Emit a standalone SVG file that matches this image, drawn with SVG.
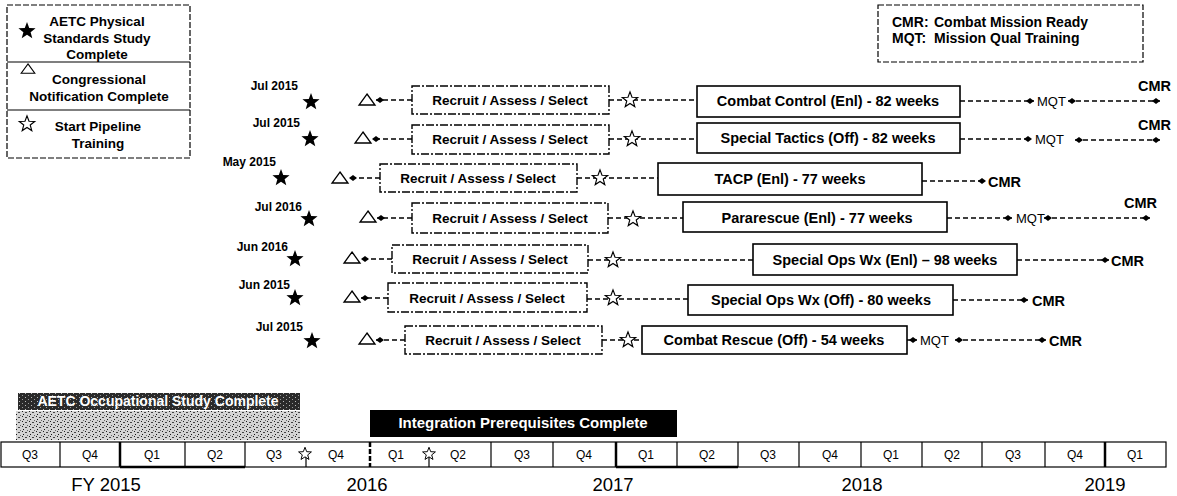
<svg xmlns="http://www.w3.org/2000/svg" width="1177" height="496" viewBox="0 0 1177 496">
<defs>
<style>
text{font-family:"Liberation Sans",Arial,sans-serif;fill:#000}
.rt{font-size:13.5px;font-weight:bold;text-anchor:middle}
.pt{font-size:14.5px;font-weight:bold;text-anchor:middle}
.date{font-size:12px;font-weight:bold;text-anchor:end}
.cmr{font-size:14.5px;font-weight:bold}
.mqt{font-size:13px}
.leg{font-size:13.5px;font-weight:bold;text-anchor:middle}
.leg2{font-size:14px;font-weight:bold}
.q{font-size:12px;text-anchor:middle}
.yr{font-size:18.5px;text-anchor:middle}
.wt{fill:#fff;font-weight:bold;text-anchor:middle}
.rec{fill:#fff;stroke:#000;stroke-width:1.4;stroke-dasharray:8 2 2 2}
.pip{fill:#fff;stroke:#000;stroke-width:1.6}
.con{stroke:#000;stroke-width:1.5;stroke-dasharray:5 3;fill:none}
.fs{fill:#000}
.os{fill:#fff;stroke:#000;stroke-width:1.3}
.tri{fill:#fff;stroke:#000;stroke-width:1.3}
.cell{fill:#fff;stroke:#000;stroke-width:1.2}
.div{stroke:#000;stroke-width:1.2}
.thick{stroke:#000;stroke-width:2.5}
.lg{fill:#fff;stroke:#000;stroke-width:1.2;stroke-dasharray:6 2}
</style>
<path id="star" d="M0,-9 L2.23,-3.07 L8.56,-2.78 L3.61,1.17 L5.29,7.28 L0,3.8 L-5.29,7.28 L-3.61,1.17 L-8.56,-2.78 L-2.23,-3.07 Z"/>
<path id="tri" d="M0,-6 L8,5 L-8,5 Z"/>
<marker id="de" markerWidth="10" markerHeight="8" refX="9" refY="4" orient="auto" markerUnits="userSpaceOnUse"><path d="M1,4 L5,1 L9,4 L5,7 Z" fill="#000"/></marker>
<marker id="ds" markerWidth="10" markerHeight="8" refX="1" refY="4" orient="auto" markerUnits="userSpaceOnUse"><path d="M1,4 L5,1 L9,4 L5,7 Z" fill="#000"/></marker>
<pattern id="noiseL" width="7" height="5" patternUnits="userSpaceOnUse"><rect width="7" height="5" fill="#d4d4d4"/><rect x="1" y="1" width="1" height="1" fill="#222"/><rect x="4" y="2" width="2" height="1" fill="#444"/><rect x="2" y="4" width="1" height="1" fill="#111"/><rect x="6" y="0" width="1" height="1" fill="#666"/></pattern>
<pattern id="noiseD" width="6" height="4" patternUnits="userSpaceOnUse"><rect width="6" height="4" fill="#2a2a2a"/><rect x="1" y="1" width="1" height="1" fill="#bbb"/><rect x="4" y="3" width="1" height="1" fill="#999"/></pattern>
</defs>
<rect width="1177" height="496" fill="#fff"/>

<!-- Legends -->
<g id="legend-symbols">
<rect class="lg" x="7" y="5" width="183" height="153"/>
<line class="div" x1="7" y1="62" x2="190" y2="62"/>
<line class="div" x1="7" y1="110" x2="190" y2="110"/>
<use href="#star" class="fs" transform="translate(27,31)"/>
<text class="leg" x="97" y="26">AETC Physical</text>
<text class="leg" x="97" y="43">Standards Study</text>
<text class="leg" x="97" y="59">Complete</text>
<use href="#tri" class="tri" transform="translate(28,69) scale(0.85)"/>
<text class="leg" x="99" y="84">Congressional</text>
<text class="leg" x="99" y="101">Notification Complete</text>
<use href="#star" class="os" transform="translate(27,124) scale(0.9)"/>
<text class="leg" x="98" y="131">Start Pipeline</text>
<text class="leg" x="98" y="148">Training</text>
</g>
<g id="legend-abbrev">
<rect class="lg" x="878" y="5" width="265" height="57"/>
<text class="leg2" x="892" y="27">CMR:</text><text class="leg2" x="934" y="27">Combat Mission Ready</text>
<text class="leg2" x="892" y="43">MQT:</text><text class="leg2" x="934" y="43">Mission Qual Training</text>
</g>

<!-- Connectors -->
<g id="connectors">
<path class="con" d="M412,100 H376" marker-end="url(#de)"/>
<path class="con" d="M609,100 H697"/>
<path class="con" d="M960,101 H1034" marker-end="url(#de)"/>
<path class="con" d="M1068,101 H1160" marker-start="url(#ds)" marker-end="url(#de)"/>

<path class="con" d="M412,139 H372" marker-end="url(#de)"/>
<path class="con" d="M609,139 H697"/>
<path class="con" d="M960,139 H1032" marker-end="url(#de)"/>
<path class="con" d="M1075,140 H1160" marker-start="url(#ds)" marker-end="url(#de)"/>

<path class="con" d="M380,178 H349" marker-end="url(#de)"/>
<path class="con" d="M577,178 H658"/>
<path class="con" d="M922,181 H986" marker-end="url(#de)"/>

<path class="con" d="M412,218 H377" marker-end="url(#de)"/>
<path class="con" d="M608,218 H683"/>
<path class="con" d="M947,218 H1012" marker-end="url(#de)"/>
<path class="con" d="M1044,218 H1150" marker-start="url(#ds)" marker-end="url(#de)"/>

<path class="con" d="M392,259 H361" marker-end="url(#de)"/>
<path class="con" d="M588,260 H753"/>
<path class="con" d="M1017,260 H1109" marker-end="url(#de)"/>

<path class="con" d="M388,298 H361" marker-end="url(#de)"/>
<path class="con" d="M587,299 H688"/>
<path class="con" d="M953,300 H1028" marker-end="url(#de)"/>

<path class="con" d="M405,340 H376" marker-end="url(#de)"/>
<path class="con" d="M602,340 H642"/>
<path class="con" d="M907,340 H917" marker-end="url(#de)"/>
<path class="con" d="M955,340 H1046" marker-start="url(#ds)" marker-end="url(#de)"/>
</g>

<!-- Row 1 Combat Control -->
<g id="r1-study"><text class="date" x="298" y="90">Jul 2015</text><use href="#star" class="fs" transform="translate(311,102)"/></g>
<g id="r1-notify"><use href="#tri" class="tri" transform="translate(367,100)"/></g>
<g id="r1-recruit"><rect class="rec" x="412" y="86" width="197" height="28"/><text class="rt" x="510" y="105">Recruit / Assess / Select</text></g>
<g id="r1-start"><use href="#star" class="os" transform="translate(630,100) scale(0.9)"/></g>
<g id="r1-pipeline"><rect class="pip" x="697" y="86" width="263" height="31"/><text class="pt" x="828" y="106">Combat Control (Enl) - 82 weeks</text></g>
<g id="r1-mqt"><text class="mqt" x="1037" y="106">MQT</text></g>
<g id="r1-cmr"><text class="cmr" x="1138" y="91">CMR</text></g>

<!-- Row 2 Special Tactics -->
<g id="r2-study"><text class="date" x="300" y="127">Jul 2015</text><use href="#star" class="fs" transform="translate(310,139)"/></g>
<g id="r2-notify"><use href="#tri" class="tri" transform="translate(363,138)"/></g>
<g id="r2-recruit"><rect class="rec" x="412" y="125" width="197" height="29"/><text class="rt" x="510" y="144">Recruit / Assess / Select</text></g>
<g id="r2-start"><use href="#star" class="os" transform="translate(632,139) scale(0.9)"/></g>
<g id="r2-pipeline"><rect class="pip" x="697" y="123" width="263" height="30"/><text class="pt" x="828" y="143">Special Tactics (Off) - 82 weeks</text></g>
<g id="r2-mqt"><text class="mqt" x="1035" y="144">MQT</text></g>
<g id="r2-cmr"><text class="cmr" x="1138" y="130">CMR</text></g>

<!-- Row 3 TACP -->
<g id="r3-study"><text class="date" x="276" y="166">May 2015</text><use href="#star" class="fs" transform="translate(281,178)"/></g>
<g id="r3-notify"><use href="#tri" class="tri" transform="translate(340,178)"/></g>
<g id="r3-recruit"><rect class="rec" x="380" y="164" width="197" height="28"/><text class="rt" x="478" y="183">Recruit / Assess / Select</text></g>
<g id="r3-start"><use href="#star" class="os" transform="translate(600,178) scale(0.9)"/></g>
<g id="r3-pipeline"><rect class="pip" x="658" y="163" width="264" height="32"/><text class="pt" x="790" y="184">TACP (Enl) - 77 weeks</text></g>
<g id="r3-cmr"><text class="cmr" x="988" y="187">CMR</text></g>

<!-- Row 4 Pararescue -->
<g id="r4-study"><text class="date" x="302" y="211">Jul 2016</text><use href="#star" class="fs" transform="translate(309,219)"/></g>
<g id="r4-notify"><use href="#tri" class="tri" transform="translate(368,217)"/></g>
<g id="r4-recruit"><rect class="rec" x="412" y="203" width="196" height="30"/><text class="rt" x="510" y="223">Recruit / Assess / Select</text></g>
<g id="r4-start"><use href="#star" class="os" transform="translate(633,219) scale(0.9)"/></g>
<g id="r4-pipeline"><rect class="pip" x="683" y="202" width="264" height="30"/><text class="pt" x="817" y="223">Pararescue (Enl) - 77 weeks</text></g>
<g id="r4-mqt"><text class="mqt" x="1016" y="223">MQT</text></g>
<g id="r4-cmr"><text class="cmr" x="1124" y="208">CMR</text></g>

<!-- Row 5 Special Ops Wx (Enl) -->
<g id="r5-study"><text class="date" x="288" y="251">Jun 2016</text><use href="#star" class="fs" transform="translate(295,259)"/></g>
<g id="r5-notify"><use href="#tri" class="tri" transform="translate(352,258)"/></g>
<g id="r5-recruit"><rect class="rec" x="392" y="245" width="196" height="28"/><text class="rt" x="490" y="264">Recruit / Assess / Select</text></g>
<g id="r5-start"><use href="#star" class="os" transform="translate(613,260) scale(0.9)"/></g>
<g id="r5-pipeline"><rect class="pip" x="753" y="244" width="264" height="31"/><text class="pt" x="885" y="265">Special Ops Wx (Enl) – 98 weeks</text></g>
<g id="r5-cmr"><text class="cmr" x="1111" y="266">CMR</text></g>

<!-- Row 6 Special Ops Wx (Off) -->
<g id="r6-study"><text class="date" x="290" y="289">Jun 2015</text><use href="#star" class="fs" transform="translate(295,298)"/></g>
<g id="r6-notify"><use href="#tri" class="tri" transform="translate(352,297)"/></g>
<g id="r6-recruit"><rect class="rec" x="388" y="283" width="199" height="29"/><text class="rt" x="487" y="303">Recruit / Assess / Select</text></g>
<g id="r6-start"><use href="#star" class="os" transform="translate(613,298) scale(0.9)"/></g>
<g id="r6-pipeline"><rect class="pip" x="688" y="285" width="265" height="30"/><text class="pt" x="821" y="305">Special Ops Wx (Off) - 80 weeks</text></g>
<g id="r6-cmr"><text class="cmr" x="1032" y="306">CMR</text></g>

<!-- Row 7 Combat Rescue -->
<g id="r7-study"><text class="date" x="303" y="331">Jul 2015</text><use href="#star" class="fs" transform="translate(312,341)"/></g>
<g id="r7-notify"><use href="#tri" class="tri" transform="translate(367,339)"/></g>
<g id="r7-recruit"><rect class="rec" x="405" y="326" width="197" height="28"/><text class="rt" x="503" y="345">Recruit / Assess / Select</text></g>
<g id="r7-start"><use href="#star" class="os" transform="translate(628,340) scale(0.9)"/></g>
<g id="r7-pipeline"><rect class="pip" x="642" y="326" width="265" height="28"/><text class="pt" x="774" y="345">Combat Rescue (Off) - 54 weeks</text></g>
<g id="r7-mqt"><text class="mqt" x="920" y="345">MQT</text></g>
<g id="r7-cmr"><text class="cmr" x="1049" y="346">CMR</text></g>

<!-- Bottom bars -->
<g id="occupational-study">
<rect x="18" y="393" width="282" height="17" fill="url(#noiseD)"/>
<text class="wt" x="158" y="406" font-size="14">AETC Occupational Study Complete</text>
</g>
<g id="gray-milestone">
<rect x="16" y="411" width="284" height="29" fill="url(#noiseL)"/>
</g>
<g id="integration">
<rect x="370" y="410" width="307" height="27" fill="#000"/>
<text class="wt" x="523" y="428" font-size="15">Integration Prerequisites Complete</text>
</g>

<!-- Timeline -->
<g id="timeline">
<rect class="cell" x="1" y="442" width="1165" height="25"/>
<line class="div" x1="60" y1="442" x2="60" y2="467"/>
<line class="thick" x1="120" y1="442" x2="120" y2="467"/>
<line class="div" x1="185" y1="442" x2="185" y2="467"/>
<line class="div" x1="245" y1="442" x2="245" y2="467"/>
<line class="div" x1="306" y1="454" x2="306" y2="467"/>
<line class="thick" x1="370" y1="442" x2="370" y2="467" stroke-dasharray="5 2"/>
<line class="div" x1="429" y1="454" x2="429" y2="467"/>
<line class="div" x1="491" y1="442" x2="491" y2="467"/>
<line class="div" x1="553" y1="442" x2="553" y2="467"/>
<line class="thick" x1="616" y1="442" x2="616" y2="467"/>
<line class="div" x1="677" y1="442" x2="677" y2="467"/>
<line class="div" x1="738" y1="442" x2="738" y2="467"/>
<line class="div" x1="799" y1="442" x2="799" y2="467"/>
<line class="div" x1="861" y1="442" x2="861" y2="467"/>
<line class="div" x1="922" y1="442" x2="922" y2="467"/>
<line class="div" x1="982" y1="442" x2="982" y2="467"/>
<line class="div" x1="1045" y1="442" x2="1045" y2="467"/>
<line class="thick" x1="1105" y1="442" x2="1105" y2="467"/>
<line class="thick" x1="120" y1="467" x2="245" y2="467"/>
<line class="thick" x1="616" y1="467" x2="738" y2="467"/>
<use href="#star" class="os" transform="translate(305,454) scale(0.75)"/>
<use href="#star" class="os" transform="translate(429,454) scale(0.75)"/>
<text class="q" x="30" y="459">Q3</text>
<text class="q" x="90" y="459">Q4</text>
<text class="q" x="152" y="459">Q1</text>
<text class="q" x="215" y="459">Q2</text>
<text class="q" x="274" y="459">Q3</text>
<text class="q" x="336" y="459">Q4</text>
<text class="q" x="396" y="459">Q1</text>
<text class="q" x="458" y="459">Q2</text>
<text class="q" x="522" y="459">Q3</text>
<text class="q" x="584" y="459">Q4</text>
<text class="q" x="646" y="459">Q1</text>
<text class="q" x="707" y="459">Q2</text>
<text class="q" x="768" y="459">Q3</text>
<text class="q" x="830" y="459">Q4</text>
<text class="q" x="891" y="459">Q1</text>
<text class="q" x="952" y="459">Q2</text>
<text class="q" x="1013" y="459">Q3</text>
<text class="q" x="1075" y="459">Q4</text>
<text class="q" x="1135" y="459">Q1</text>
<text class="yr" x="106" y="491">FY 2015</text>
<text class="yr" x="367" y="491">2016</text>
<text class="yr" x="613" y="491">2017</text>
<text class="yr" x="862" y="491">2018</text>
<text class="yr" x="1105" y="491">2019</text>
</g>
</svg>
